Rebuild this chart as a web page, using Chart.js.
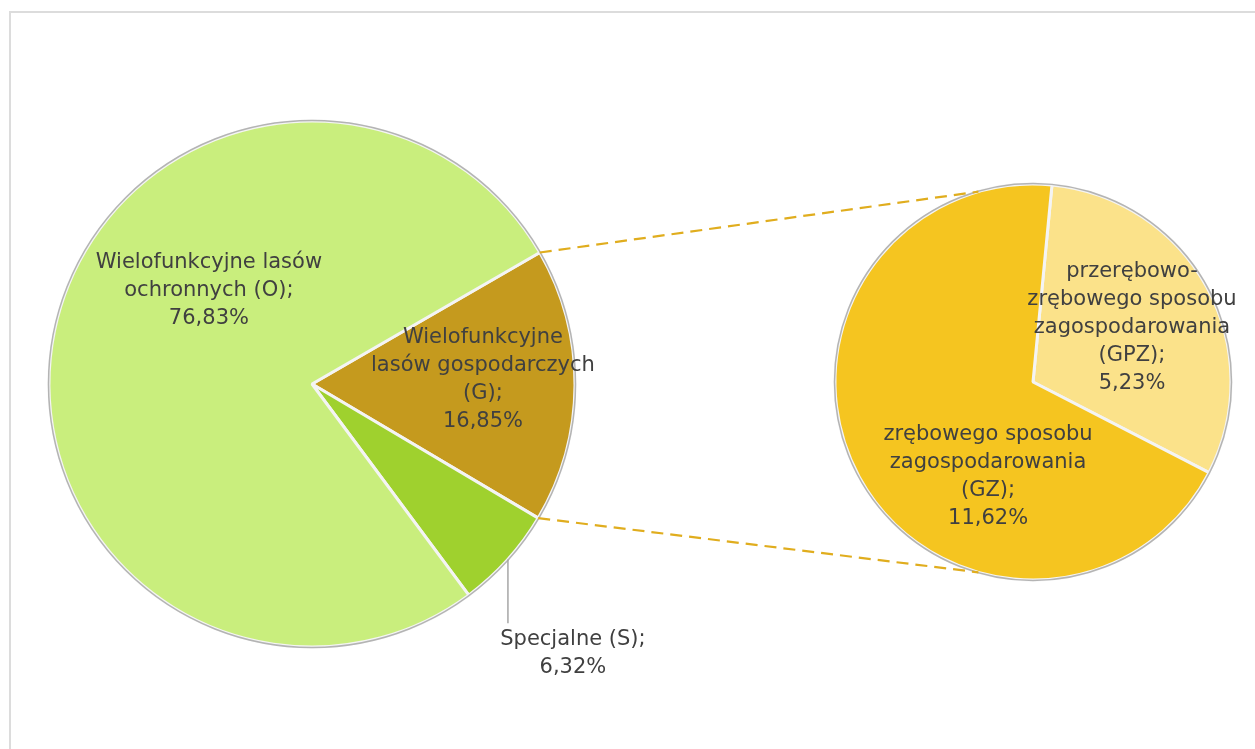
<!DOCTYPE html>
<html>
<head>
<meta charset="utf-8">
<script src="https://cdn.jsdelivr.net/npm/chart.js@4.4.1/dist/chart.umd.min.js"></script>
<style>
  html, body { margin: 0; padding: 0; background: #fff; }
  #page { position: relative; width: 1255px; height: 749px; overflow: hidden; }
  #frame { position: absolute; left: 9px; top: 11px; right: -5px; bottom: -5px; border-top: 2px solid #dcdcdc; border-left: 2px solid #dcdcdc; }
  #leftWrap { position: absolute; left: 0; top: 0; width: 720px; height: 749px; }
  #rightWrap { position: absolute; left: 813px; top: 162px; width: 440px; height: 440px; }
  #overlay { position: absolute; left: 0; top: 0; pointer-events: none; }
</style>
</head>
<body>
<div id="page">
  <div id="frame"></div>
  <div id="leftWrap"><canvas id="leftChart" width="720" height="749"></canvas></div>
  <div id="rightWrap"><canvas id="rightChart" width="440" height="440"></canvas></div>
  <canvas id="overlay" width="1255" height="749"></canvas>
</div>
<script>
// main pie
const mainLabels = [
  ['Wielofunkcyjne', 'lasów gospodarczych', '(G);'],
  ['Specjalne (S);'],
  ['Wielofunkcyjne lasów', 'ochronnych (O);']
];
const mainValues = [16.85, 6.32, 76.83];
const mainColors = ['#c59a1e', '#9fd12e', '#c9ee7d'];

// secondary pie (breakdown of G)
const subLabels = [
  ['przerębowo-', 'zrębowego sposobu', 'zagospodarowania', '(GPZ);'],
  ['zrębowego sposobu', 'zagospodarowania', '(GZ);']
];
const subValues = [5.23, 11.62];
const subColors = ['#fbe28a', '#f5c520'];

const FONT = '21px "DejaVu Sans", sans-serif';
const TEXT_COLOR = '#404040';
const LINE_H = 28;

// label centres, as fractions of the pie radius from its centre
const mainLabelPos = [[0.650, -0.017], [0.992, 1.023], [-0.392, -0.354]];
const subLabelPos = [[0.50, -0.273], [-0.227, 0.48]];

function fmt(v) {
  return v.toFixed(2).replace('.', ',') + '%';
}

function pieLabelsPlugin(labels, values, positions, withLeader) {
  return {
    id: 'pieLabels',
    afterDatasetsDraw(chart) {
      const ctx = chart.ctx;
      const arcs = chart.getDatasetMeta(0).data;
      const cx = arcs[0].x, cy = arcs[0].y, r = arcs[0].outerRadius;

      // grey rim round the pie
      ctx.save();
      ctx.beginPath();
      ctx.arc(cx, cy, r + 0.5, 0, Math.PI * 2);
      ctx.strokeStyle = '#b4b4b4';
      ctx.lineWidth = 1.5;
      ctx.stroke();

      // leader line (Specjalne)
      if (withLeader) {
        const lx = cx + r * 0.745;
        const ly = cy + Math.sqrt(r * r - (r * 0.745) * (r * 0.745));
        ctx.beginPath();
        ctx.moveTo(lx, ly);
        ctx.lineTo(lx, cy + r * 0.91);
        ctx.strokeStyle = '#a6a6a6';
        ctx.lineWidth = 1.5;
        ctx.stroke();
      }

      ctx.font = FONT;
      ctx.fillStyle = TEXT_COLOR;
      ctx.textAlign = 'center';
      ctx.textBaseline = 'middle';
      labels.forEach((lines, i) => {
        const all = lines.concat([fmt(values[i])]);
        const x = cx + positions[i][0] * r;
        const y0 = cy + positions[i][1] * r - (all.length - 1) * LINE_H / 2;
        all.forEach((t, j) => ctx.fillText(t, x, y0 + j * LINE_H));
      });
      ctx.restore();
    }
  };
}

const leftChart = new Chart(document.getElementById('leftChart'), {
  type: 'pie',
  data: {
    labels: mainLabels.map(l => l.join(' ')),
    datasets: [{
      data: mainValues,
      backgroundColor: mainColors,
      borderColor: '#f4f4f4',
      borderWidth: 3,
      radius: 263
    }]
  },
  options: {
    responsive: false,
    devicePixelRatio: 1,
    animation: false,
    rotation: 60,
    layout: { padding: { top: 19, right: 96 } },
    plugins: { legend: { display: false }, tooltip: { enabled: false } }
  },
  plugins: [pieLabelsPlugin(mainLabels, mainValues, mainLabelPos, true)]
});

const rightChart = new Chart(document.getElementById('rightChart'), {
  type: 'pie',
  data: {
    labels: subLabels.map(l => l.join(' ')),
    datasets: [{
      data: subValues,
      backgroundColor: subColors,
      borderColor: '#f4f4f4',
      borderWidth: 3,
      radius: 198
    }]
  },
  options: {
    responsive: false,
    devicePixelRatio: 1,
    animation: false,
    rotation: 5.5,
    plugins: { legend: { display: false }, tooltip: { enabled: false } }
  },
  plugins: [pieLabelsPlugin(subLabels, subValues, subLabelPos, false)]
});

// dashed connectors from the G slice to the secondary pie
function drawConnectors() {
  const ctx = document.getElementById('overlay').getContext('2d');
  const g = leftChart.getDatasetMeta(0).data[0];
  const s = rightChart.getDatasetMeta(0).data[0];
  const lOff = document.getElementById('leftWrap');
  const rOff = document.getElementById('rightWrap');
  const gx = g.x + lOff.offsetLeft, gy = g.y + lOff.offsetTop;
  const sx = s.x + rOff.offsetLeft, sy = s.y + rOff.offsetTop;
  const a = 106 * Math.PI / 180;
  ctx.save();
  ctx.setLineDash([12, 7]);
  ctx.strokeStyle = '#e0ad1e';
  ctx.lineWidth = 2.2;
  [[g.startAngle, -a], [g.endAngle, a]].forEach(([ga, sa]) => {
    ctx.beginPath();
    ctx.moveTo(gx + Math.cos(ga) * g.outerRadius, gy + Math.sin(ga) * g.outerRadius);
    ctx.lineTo(sx + Math.cos(sa) * s.outerRadius, sy + Math.sin(sa) * s.outerRadius);
    ctx.stroke();
  });
  ctx.restore();
}
drawConnectors();
</script>
</body>
</html>
